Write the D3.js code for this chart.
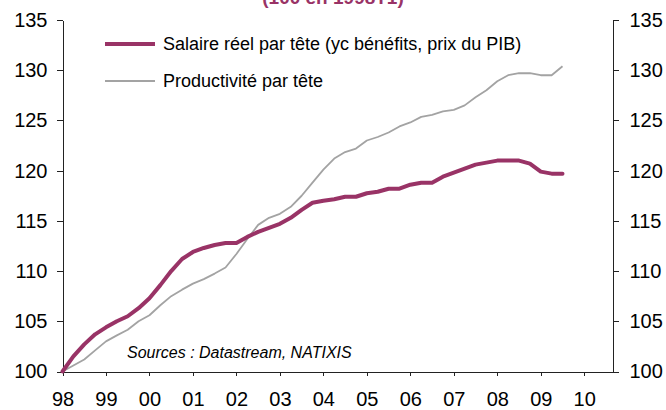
<!DOCTYPE html>
<html>
<head>
<meta charset="utf-8">
<script src="https://cdn.jsdelivr.net/npm/d3@7"></script>
<style>
  body { margin: 0; background: #fff; }
  svg { display: block; font-family: Arial, "Liberation Sans", sans-serif; }
  .axis path, .axis line { stroke: #222; shape-rendering: crispEdges; }
  .axis text { fill: #000; font-size: 20px; }
</style>
</head>
<body>
<svg id="chart"></svg>
<script>
// quarterly, 1998T1 .. 2009T3
const startYear = 1998;
const salaire = [
  100.0, 101.5, 102.7, 103.7, 104.4, 105.0, 105.5, 106.3,
  107.3, 108.6, 110.0, 111.2, 111.9, 112.3, 112.6, 112.8,
  112.8, 113.4, 113.9, 114.3, 114.7, 115.3, 116.1, 116.8,
  117.0, 117.15, 117.4, 117.4, 117.75, 117.9, 118.2, 118.2,
  118.6, 118.8, 118.8, 119.4, 119.8, 120.2, 120.6, 120.8,
  121.0, 121.0, 121.0, 120.7, 119.9, 119.7, 119.7
];
const productivite = [
  100.0, 100.6, 101.2, 102.1, 103.0, 103.6, 104.15, 105.0,
  105.6, 106.6, 107.5, 108.15, 108.75, 109.2, 109.75, 110.35,
  111.7, 113.2, 114.6, 115.3, 115.7, 116.4, 117.5, 118.8,
  120.1, 121.2, 121.85, 122.2, 123.0, 123.35, 123.8, 124.4,
  124.8, 125.35, 125.55, 125.9, 126.05, 126.5, 127.3, 128.0,
  128.9, 129.5, 129.7, 129.7, 129.5, 129.5, 130.4
];
const yearTicks = [1998, 1999, 2000, 2001, 2002, 2003, 2004, 2005, 2006, 2007, 2008, 2009, 2010];
const yTicks = [100, 105, 110, 115, 120, 125, 130, 135];
const legendLabels = ['Salaire réel par tête (yc bénéfits, prix du PIB)', 'Productivité par tête'];
const titleText = '(100 en 1998T1)';
const sourceText = 'Sources : Datastream, NATIXIS';

const width = 666;
const height = 410;
const plum = '#993366';
const grey = '#a3a3a3';

const svg = d3.select('#chart')
  .attr('width', width)
  .attr('height', height);

const xScale = d3.scaleLinear()
  .domain([1998, 2010.65])
  .range([62.5, 612.5]);

const yScale = d3.scaleLinear()
  .domain([100, 135])
  .range([371.5, 20]);

const toYear = (d, i) => startYear + i / 4;

// title (mostly cut off at the top in the original)
svg.append('text')
  .attr('x', 333)
  .attr('y', 4)
  .attr('text-anchor', 'middle')
  .attr('font-size', 19)
  .attr('font-weight', 'bold')
  .attr('fill', plum)
  .text(titleText);

svg.append('g')
  .attr('class', 'axis axis--y')
  .attr('transform', `translate(${xScale.range()[0]},0)`)
  .call(d3.axisLeft(yScale)
          .tickValues(yTicks)
          .tickSizeInner(6)
          .tickSizeOuter(0)
          .tickPadding(9)
          .tickFormat(d3.format('d')));

svg.append('g')
  .attr('class', 'axis axis--y2')
  .attr('transform', `translate(${xScale.range()[1]},0)`)
  .call(d3.axisRight(yScale)
          .tickValues(yTicks)
          .tickSizeInner(6)
          .tickSizeOuter(0)
          .tickPadding(11)
          .tickFormat(d3.format('d')));

svg.append('g')
  .attr('class', 'axis axis--x')
  .attr('transform', `translate(0,${yScale(100)})`)
  .call(d3.axisBottom(xScale)
          .tickValues(yearTicks)
          .tickSizeInner(4)
          .tickSizeOuter(0)
          .tickPadding(16)
          .tickFormat(d => String(d % 100).padStart(2, '0')));

svg.selectAll('.axis text').attr('font-size', 20);

const line = d3.line()
  .x((d, i) => xScale(toYear(d, i)))
  .y(d => yScale(d));

svg.append('path')
  .datum(productivite)
  .attr('fill', 'none')
  .attr('stroke', grey)
  .attr('stroke-width', 1.8)
  .attr('stroke-linejoin', 'round')
  .attr('d', line);

svg.append('path')
  .datum(salaire)
  .attr('fill', 'none')
  .attr('stroke', plum)
  .attr('stroke-width', 4)
  .attr('stroke-linejoin', 'round')
  .attr('stroke-linecap', 'round')
  .attr('d', line);

// legend
const legend = svg.append('g').attr('class', 'legend');
const legendRows = [
  { label: legendLabels[0], color: plum, w: 4, y: 44 },
  { label: legendLabels[1], color: grey, w: 1.8, y: 81 }
];
legendRows.forEach(r => {
  legend.append('line')
    .attr('x1', 105).attr('x2', 155)
    .attr('y1', r.y).attr('y2', r.y)
    .attr('stroke', r.color)
    .attr('stroke-width', r.w);
  legend.append('text')
    .attr('x', 163)
    .attr('y', r.y)
    .attr('dy', '0.35em')
    .attr('font-size', 18)
    .attr('fill', '#000')
    .text(r.label);
});

svg.append('text')
  .attr('x', 127)
  .attr('y', 358)
  .attr('font-size', 16)
  .attr('font-style', 'italic')
  .attr('fill', '#000')
  .text(sourceText);
</script>
</body>
</html>
